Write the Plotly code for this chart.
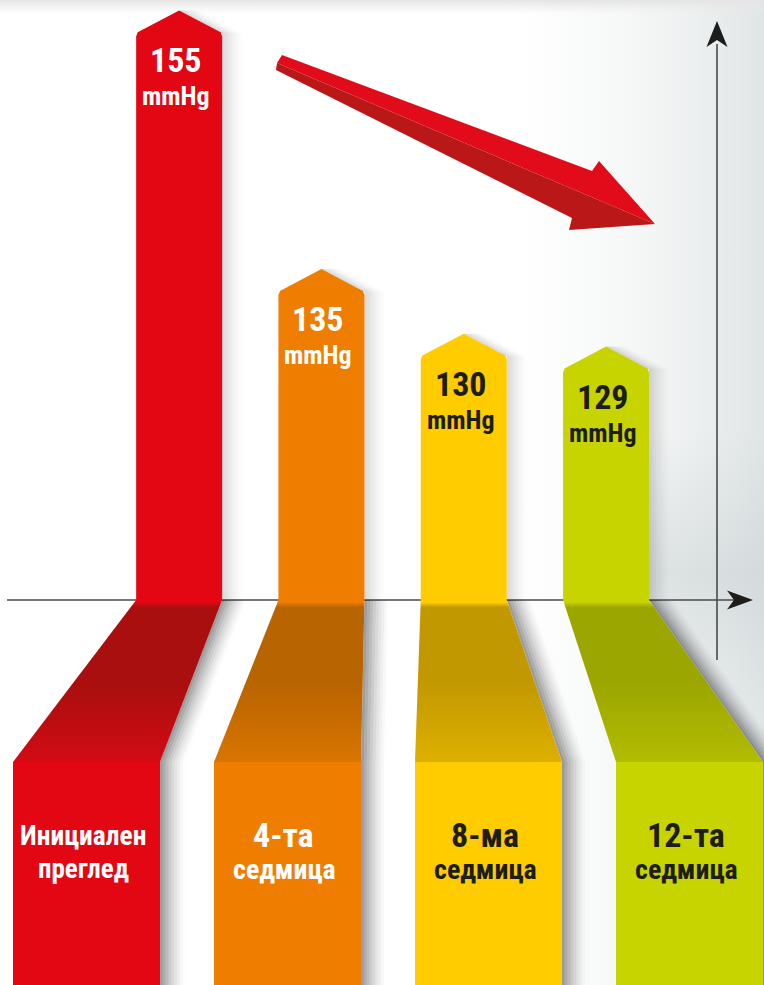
import plotly.graph_objects as go

# ---------------- data ----------------
categories = ["Инициален преглед", "4-та седмица", "8-ма седмица", "12-та седмица"]
label_top = ["Инициален", "4-та", "8-ма", "12-та"]
label_bottom = ["преглед", "седмица", "седмица", "седмица"]
values = [155, 135, 130, 129]
unit = "mmHg"

# ---------------- style ----------------
bar_colors = ["#E30613", "#EF7D00", "#FFCC00", "#C8D400"]
rib_dark = ["#A80F0E", "#B86400", "#C29800", "#9BA600"]
rib_light = ["#D20B14", "#D87500", "#DDB000", "#B2BC00"]
text_colors = ["#FFFFFF", "#FFFFFF", "#1D1D1B", "#1D1D1B"]
FONT = "Liberation Sans Narrow, Roboto Condensed, DejaVu Sans Condensed, Arial Narrow, sans-serif"

W, H = 764, 985
BASE_PX = 600
PX_PER_MM = 12.93
BASE = 109.4                       # axis value at the baseline
Y_TOP = BASE + BASE_PX / PX_PER_MM
Y_BOT = BASE - (H - BASE_PX) / PX_PER_MM


def vy(py):
    """pixel row -> y-axis value (decoration helper)"""
    return Y_TOP - py / PX_PER_MM


BAR_STEP, BAR_MID, BAR_HALF = 142.3, 392.6, 43
RIB_STEP, RIB_MID, RIB_HALF = 201, 388, 73.5
CHEV = 23 / PX_PER_MM
KINK = vy(762)
n = len(values)

fig = go.Figure()


def poly(xs, ys, color=None, grad=None):
    kw = dict(x=list(xs) + [xs[0]], y=list(ys) + [ys[0]], fill="toself", mode="none",
              hoverinfo="skip", showlegend=False)
    if grad is not None:
        kw["fillgradient"] = grad
    else:
        kw["fillcolor"] = color
    fig.add_trace(go.Scatter(**kw))


# ---------------- background ----------------
poly([520, W, W, 520], [Y_BOT, Y_BOT, Y_TOP, Y_TOP],
     grad=dict(type="horizontal", colorscale=[[0, "rgba(236,239,239,0)"], [0.5, "rgba(234,237,237,0.5)"],
                                               [1, "rgba(224,229,230,1)"]]))
poly([640, W, W, 640], [vy(720), vy(720), vy(430), vy(430)],
     grad=dict(type="vertical", colorscale=[[0, "rgba(200,208,210,0)"], [0.5, "rgba(200,208,210,0.5)"],
                                             [1, "rgba(200,208,210,0)"]]))
poly([0, W, W, 0], [vy(14), vy(14), Y_TOP, Y_TOP],
     grad=dict(type="vertical", colorscale=[[0, "rgba(235,235,235,0)"], [1, "rgba(228,228,228,1)"]]))

# ---------------- axes ----------------
AX = "#4A4A4A"
fig.add_trace(go.Scatter(x=[7, 736], y=[BASE, BASE], mode="lines", line=dict(color=AX, width=1.6),
                         hoverinfo="skip", showlegend=False))
poly([753, 727, 734, 727], [BASE, vy(590.5), BASE, vy(609.5)], color="#1D1D1B")
fig.add_trace(go.Scatter(x=[717, 717], y=[vy(660), vy(44)], mode="lines", line=dict(color=AX, width=1.6),
                         hoverinfo="skip", showlegend=False))
poly([717, 706.5, 717, 727.5], [vy(21), vy(47), vy(40), vy(47)], color="#1D1D1B")

# ---------------- trend arrow ----------------
up = [(282, 55), (592, 171), (599, 161), (655, 224), (277, 63)]
lo = [(277, 63), (655, 224), (569, 230), (572, 218), (276, 70)]
poly([p[0] for p in up], [vy(p[1]) for p in up], color="#E20B1A")
poly([p[0] for p in lo], [vy(p[1]) for p in lo], color="#BA1818")


# ---------------- shadows ----------------
def shadow(pts, width, amax, steps=9):
    for k in range(steps):
        d0 = width * k / steps
        d1 = width * (k + 1) / steps
        a = amax * (1 - (k + 0.5) / steps) ** 1.5
        xs = [p[0] + d0 for p in pts] + [p[0] + d1 for p in reversed(pts)]
        ys = [p[1] for p in pts] + [p[1] for p in reversed(pts)]
        poly(xs, ys, color=f"rgba(0,0,0,{a:.3f})")


geo = []
for i, v in enumerate(values):
    cx = BAR_MID + BAR_STEP * (i - (n - 1) / 2)
    bx = RIB_MID + RIB_STEP * (i - (n - 1) / 2)
    geo.append((cx, bx))
    sh = v - CHEV
    shadow([(cx, v), (cx + BAR_HALF, sh), (cx + BAR_HALF, BASE)], 22, 0.16)
    shadow([(cx + BAR_HALF, BASE), (bx + RIB_HALF, KINK), (bx + RIB_HALF, Y_BOT)], 26, 0.42)

# ---------------- ribbons + bars ----------------
for i, v in enumerate(values):
    cx, bx = geo[i]
    l, r = cx - BAR_HALF, cx + BAR_HALF
    bl, br = bx - RIB_HALF, bx + RIB_HALF
    # slanted fold part
    poly([l, r, br, bl], [BASE, BASE, KINK, KINK],
         grad=dict(type="vertical",
                   colorscale=[[0, rib_light[i]], [0.5, rib_dark[i]], [0.955, rib_dark[i]],
                               [0.985, bar_colors[i]], [1, bar_colors[i]]]))
    # vertical part with the label
    poly([bl, br, br, bl], [KINK, KINK, Y_BOT - 1, Y_BOT - 1], color=bar_colors[i])
    # upright bar with chevron top
    sh = v - CHEV
    xs = [l, l, l + 1.5, cx, r - 1.5, r, r]
    ys = [BASE, sh - 0.25, sh + 0.08, v, sh + 0.08, sh - 0.25, BASE]
    poly(xs, ys, color=bar_colors[i])

    # value labels
    fig.add_annotation(x=cx - 3, y=v, yshift=-50, text=str(v), showarrow=False,
                       font=dict(family=FONT, size=34, color=text_colors[i], weight="bold"))
    fig.add_annotation(x=cx - 3, y=v, yshift=-86, text=unit, showarrow=False,
                       font=dict(family=FONT, size=26, color=text_colors[i], weight="bold"))
    # category labels
    fig.add_annotation(x=bx - 4, y=vy(835), text=label_top[i], showarrow=False,
                       font=dict(family=FONT, size=27.5 if i == 0 else 34, color=text_colors[i], weight="bold"))
    fig.add_annotation(x=bx - 3, y=vy(869), text=label_bottom[i], showarrow=False,
                       font=dict(family=FONT, size=27 if i == 0 else 28, color=text_colors[i], weight="bold"))

fig.update_layout(
    width=W, height=H, margin=dict(l=0, r=0, t=0, b=0),
    paper_bgcolor="#FFFFFF", plot_bgcolor="#FFFFFF", showlegend=False,
    xaxis=dict(range=[0, W], visible=False, fixedrange=True),
    yaxis=dict(range=[Y_BOT, Y_TOP], visible=False, fixedrange=True),
)
fig.write_html("out.html", config={"displayModeBar": False},
               post_script="document.body.style.margin='0px';document.body.style.overflow='hidden';")
